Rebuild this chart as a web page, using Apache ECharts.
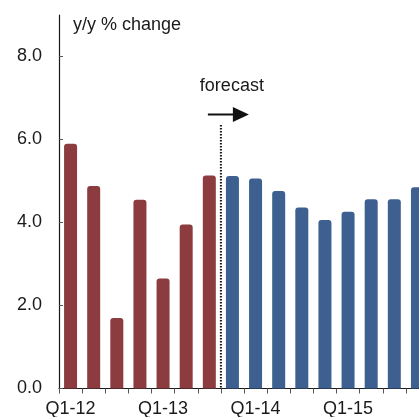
<!DOCTYPE html>
<html>
<head>
<meta charset="utf-8">
<script src="https://cdn.jsdelivr.net/npm/echarts@6/dist/echarts.min.js"></script>
<style>
  html, body { margin: 0; padding: 0; background: #fff; }
  #chart { width: 419px; height: 417px; }
</style>
</head>
<body>
<div id="chart"></div>
<script>
// Quarterly y/y % change: actuals followed by forecast
const categories = [
  'Q1-12', 'Q2-12', 'Q3-12', 'Q4-12',
  'Q1-13', 'Q2-13', 'Q3-13', 'Q4-13',
  'Q1-14', 'Q2-14', 'Q3-14', 'Q4-14',
  'Q1-15', 'Q2-15', 'Q3-15', 'Q4-15'
];
const actualValues = [5.9, 4.88, 1.7, 4.55, 2.65, 3.95, 5.13];
const forecastValues = [5.12, 5.06, 4.76, 4.36, 4.06, 4.26, 4.56, 4.56, 4.85];
const yTicks = [0, 2, 4, 6, 8];

const FONT = "'Liberation Sans', Arial, sans-serif";
const TEXT = '#1a1a1a';

const nActual = actualValues.length;
const actualSeries = categories.map((c, i) => i < nActual ? actualValues[i] : null);
const forecastSeries = categories.map((c, i) => i >= nActual ? forecastValues[i - nActual] : null);

const chart = echarts.init(document.getElementById('chart'), null, { renderer: 'canvas' });

chart.setOption({
  animation: false,
  backgroundColor: '#fff',
  // plot runs past the right edge of the canvas
  grid: {
    left: 59, top: 15, width: 370, height: 373.5,
    containLabel: false,
    outerBoundsMode: 'none'
  },
  xAxis: {
    type: 'category',
    data: categories,
    boundaryGap: true,
    axisLine: { lineStyle: { color: TEXT, width: 1.2 } },
    axisTick: { show: true, interval: 0, length: 5, inside: false, lineStyle: { color: '#555' } },
    axisLabel: { interval: 3, margin: 12, color: TEXT, fontSize: 18, fontFamily: FONT }
  },
  yAxis: {
    type: 'value',
    min: 0,
    max: 9,
    splitLine: { show: false },
    axisLine: { show: true, lineStyle: { color: TEXT, width: 1.2 } },
    axisTick: { show: true, inside: true, length: 4, customValues: yTicks, lineStyle: { color: '#555' } },
    axisLabel: {
      customValues: yTicks,
      margin: 17,
      color: TEXT,
      fontSize: 18,
      fontFamily: FONT,
      formatter: v => v.toFixed(1)
    }
  },
  series: [
    {
      name: 'actual',
      type: 'bar',
      stack: 'q',
      data: actualSeries,
      barWidth: 13,
      itemStyle: { color: '#8c3c3f', borderRadius: [3, 3, 0, 0] }
    },
    {
      name: 'forecast',
      type: 'bar',
      stack: 'q',
      data: forecastSeries,
      barWidth: 13,
      itemStyle: { color: '#3d6091', borderRadius: [3, 3, 0, 0] }
    }
  ]
});

// Forecast divider, arrow and labels placed from the axis scale
const xLast = chart.convertToPixel({ xAxisIndex: 0 }, nActual - 1);
const xFirst = chart.convertToPixel({ xAxisIndex: 0 }, nActual);
const bx = (xLast + xFirst) / 2;
const y0 = chart.convertToPixel({ yAxisIndex: 0 }, 0);

chart.setOption({
  graphic: [
    {
      type: 'text',
      x: 73, y: 25,
      style: { text: 'y/y % change', font: '18px ' + FONT, fill: TEXT, align: 'left', verticalAlign: 'middle' }
    },
    {
      type: 'text',
      x: bx + 11, y: 86.5,
      style: { text: 'forecast', font: '18px ' + FONT, fill: TEXT, align: 'center', verticalAlign: 'middle' }
    },
    {
      type: 'line',
      shape: { x1: bx, y1: 125, x2: bx, y2: y0 },
      style: { stroke: '#111', lineWidth: 2, lineDash: [1.5, 1.5] }
    },
    {
      type: 'line',
      shape: { x1: bx - 13, y1: 114.5, x2: bx + 13, y2: 114.5 },
      style: { stroke: '#111', lineWidth: 2 }
    },
    {
      type: 'polygon',
      shape: { points: [[bx + 12, 107], [bx + 28, 114.5], [bx + 12, 122]] },
      style: { fill: '#111' }
    }
  ]
});
</script>
</body>
</html>
